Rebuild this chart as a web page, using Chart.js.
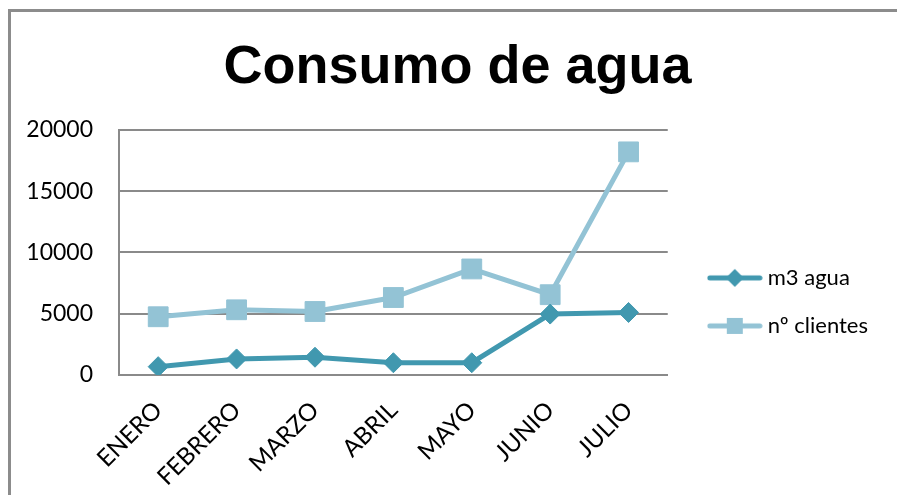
<!DOCTYPE html>
<html>
<head>
<meta charset="utf-8">
<script src="https://cdn.jsdelivr.net/npm/chart.js@4/dist/chart.umd.min.js"></script>
<style>
  html, body { margin: 0; padding: 0; background: #ffffff; }
  #wrap { position: relative; width: 897px; height: 495px; overflow: hidden; background: #ffffff; }
  #frame { position: absolute; left: 8px; top: 9px; width: 1000px; height: 1000px;
           border-left: 3px solid #8c8c8c; border-top: 3px solid #8c8c8c; box-sizing: border-box; pointer-events: none; }
  canvas { position: absolute; left: 0; top: 0; }
</style>
</head>
<body>
<div id="wrap">
  <canvas id="c" width="897" height="495"></canvas>
  <div id="frame"></div>
</div>
<script>
const chartTitle = 'Consumo de agua';
const categories = ['ENERO', 'FEBRERO', 'MARZO', 'ABRIL', 'MAYO', 'JUNIO', 'JULIO'];
const seriesNames = ['m3 agua', 'nº clientes'];
const m3Agua = [680, 1310, 1450, 1000, 1000, 4970, 5100];
const clientes = [4750, 5320, 5180, 6320, 8650, 6550, 18200];
const yTicks = [0, 5000, 10000, 15000, 20000];

const colAgua = '#4198AF';
const colClientes = '#93C3D5';

function legendIcon(color, style) {
  const cv = document.createElement('canvas');
  cv.width = 56; cv.height = 22;
  const g = cv.getContext('2d');
  g.strokeStyle = color; g.lineWidth = 5; g.lineCap = 'round';
  g.beginPath(); g.moveTo(3, 11); g.lineTo(53, 11); g.stroke();
  g.fillStyle = color;
  if (style === 'diamond') {
    g.beginPath(); g.moveTo(28, 2); g.lineTo(37, 11); g.lineTo(28, 20); g.lineTo(19, 11); g.closePath(); g.fill();
  } else {
    g.fillRect(20, 3, 16, 16);
  }
  return cv;
}
const icons = [legendIcon(colAgua, 'diamond'), legendIcon(colClientes, 'square')];

new Chart(document.getElementById('c'), {
  type: 'line',
  data: {
    labels: categories,
    datasets: [
      { label: seriesNames[0], data: m3Agua, borderColor: colAgua, backgroundColor: colAgua,
        borderWidth: 5, pointStyle: 'rectRot', pointRadius: 10, pointBorderWidth: 1,
        pointBackgroundColor: colAgua, pointBorderColor: colAgua, tension: 0 },
      { label: seriesNames[1], data: clientes, borderColor: colClientes, backgroundColor: colClientes,
        borderWidth: 5, pointStyle: 'rect', pointRadius: 14, pointBorderWidth: 1,
        pointBackgroundColor: colClientes, pointBorderColor: colClientes, tension: 0 }
    ]
  },
  options: {
    responsive: false,
    animation: false,
    layout: { padding: { left: 37, right: 19, top: 0, bottom: 0 } },
    plugins: {
      title: { display: true, text: chartTitle, color: '#000000',
               font: { family: 'Liberation Sans', weight: 'bold', size: 54 },
               padding: { top: 36, bottom: 29 } },
      legend: {
        position: 'right', fullSize: false, align: 'center', maxWidth: 260,
        title: { display: true, text: '', padding: { top: 0, bottom: 87 }, font: { size: 10 } },
        labels: {
          usePointStyle: true, pointStyleWidth: 44, padding: 26, color: '#000000',
          font: { family: 'Lato', size: 22 },
          generateLabels: (chart) => chart.data.datasets.map((ds, i) => ({
            text: ds.label, pointStyle: icons[i], fillStyle: ds.borderColor,
            strokeStyle: ds.borderColor, lineWidth: 0, hidden: false, datasetIndex: i, fontColor: '#000000'
          }))
        }
      },
      tooltip: { enabled: false }
    },
    scales: {
      x: {
        offset: true,
        grid: { display: false, drawTicks: false },
        border: { display: true, color: '#8a8a8a', width: 2 },
        ticks: { minRotation: 45, maxRotation: 45, padding: 21, color: '#000000',
                 font: { family: 'Lato', size: 24 } },
        afterFit: (s) => { s.height = 120; s.paddingLeft = 0; }
      },
      y: {
        min: 0, max: 20000,
        afterBuildTicks: (s) => { s.ticks = yTicks.map(v => ({ value: v })); },
        grid: { color: '#8a8a8a', lineWidth: 2, drawTicks: false },
        border: { display: true, color: '#8a8a8a', width: 2 },
        ticks: { padding: 26, color: '#000000', font: { family: 'Lato', size: 23 },
                 callback: (v) => String(v) },
        afterFit: (s) => { s.width = 82; s._computeLabelArea = () => undefined; }
      },
      y2: {
        position: 'right', display: true,
        grid: { display: false, drawTicks: false },
        border: { display: false },
        ticks: { display: false },
        afterFit: (s) => { s.width = 19; }
      }
    }
  }
});
</script>
</body>
</html>
